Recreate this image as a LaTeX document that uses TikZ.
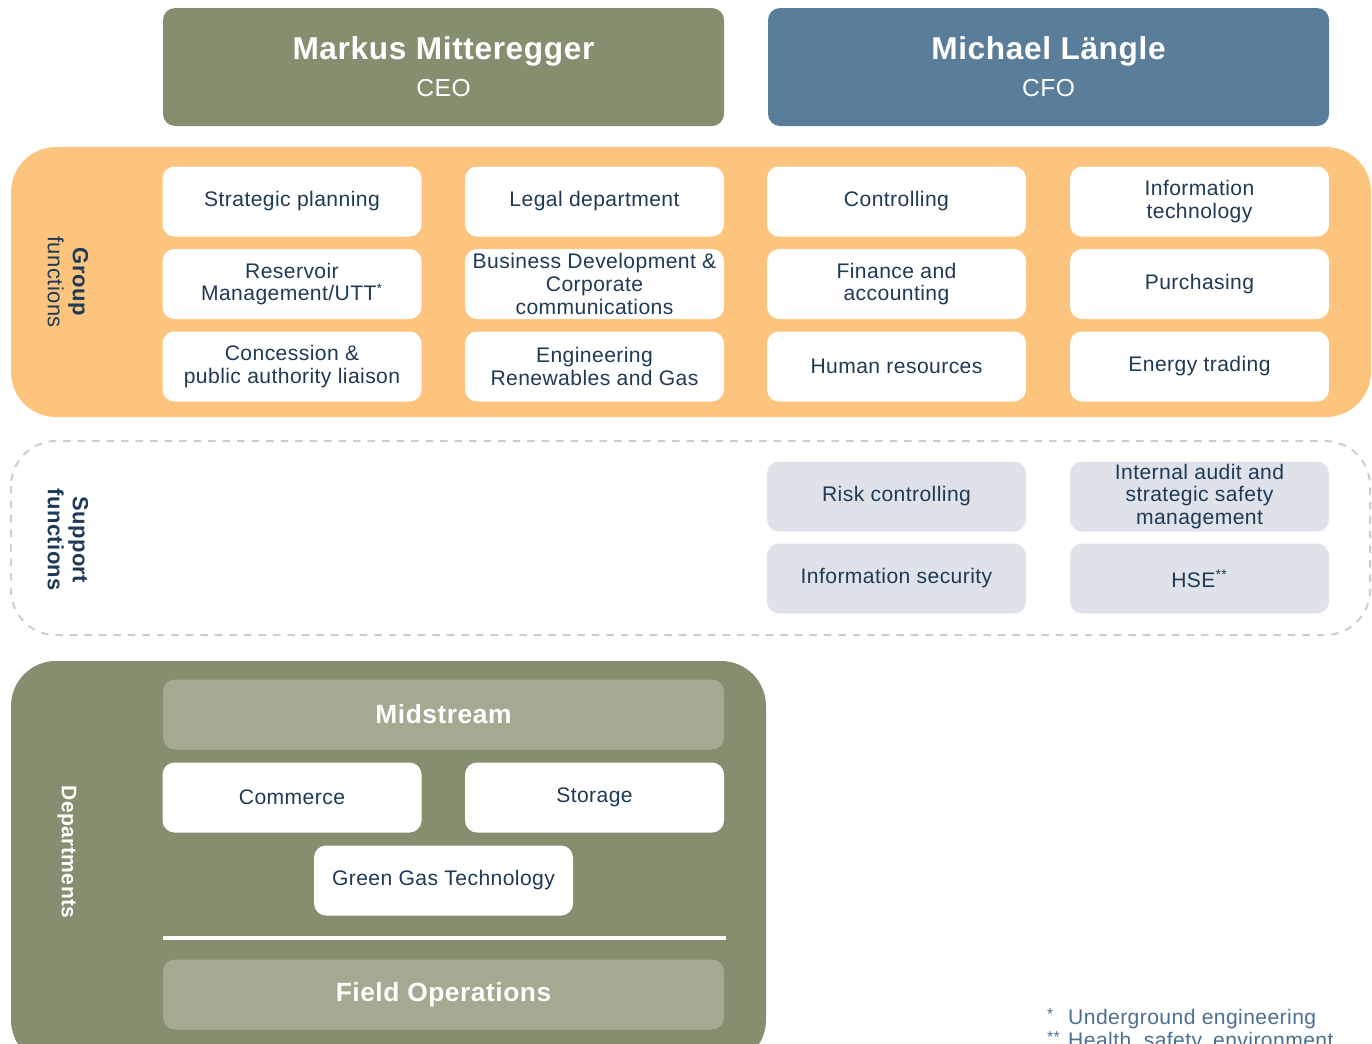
\documentclass[tikz,border=0pt]{standalone}
\usepackage{fontspec}
\setmainfont{Liberation Sans}[LetterSpace=2]
\usepackage{tikz}

\definecolor{ceogreen}{HTML}{868E70}
\definecolor{cfoblue}{HTML}{5A7E99}
\definecolor{grouporange}{HTML}{FCC47C}
\definecolor{deptlight}{HTML}{A5A991}
\definecolor{supportgray}{HTML}{DFE3E9}
\definecolor{dashgray}{HTML}{C9CED6}
\definecolor{textnavy}{HTML}{1F3A56}
\definecolor{footblue}{HTML}{4B6F92}

\newcommand{\fnmark}[1]{\makebox[0.42cm][l]{\raisebox{0.4ex}{\fontsize{9}{9}\selectfont #1}}}

\tikzset{
  headbox/.style={rounded corners=0.24cm, minimum width=11.22cm, minimum height=2.36cm, text=white, align=center, font=\fontsize{14}{21}\selectfont},
  unitbox/.style={fill=white, rounded corners=0.24cm, minimum width=5.18cm, minimum height=1.4cm, text=textnavy, align=center, inner sep=0pt, font=\fontsize{12}{13}\selectfont},
  supportbox/.style={unitbox, fill=supportgray},
  deptbar/.style={fill=deptlight, rounded corners=0.24cm, minimum width=11.22cm, minimum height=1.4cm, text=white, font=\fontsize{15}{17}\selectfont\bfseries},
  sidelabel/.style={rotate=-90, align=center, text=textnavy, font=\fontsize{12.5}{14.2}\selectfont},
  footnote/.style={anchor=base west, text=footblue, font=\fontsize{12}{14}\selectfont}
}

\begin{document}
\begin{tikzpicture}[y=-1cm]
  \useasboundingbox (0,0) rectangle (27.44,20.86);
  % board
  \node[headbox, fill=ceogreen] (ceo) at (8.87,1.34) {{\fontsize{18}{21}\selectfont\bfseries Markus Mitteregger}\\CEO};
  \node[headbox, fill=cfoblue] (cfo) at (20.97,1.34) {{\fontsize{18}{21}\selectfont\bfseries Michael Längle}\\CFO};

  % group functions
  \fill[grouporange, rounded corners=0.9cm] (0.22,2.94) rectangle (27.42,8.34);
  \node[sidelabel] (grouplbl) at (1.36,5.64) {\textbf{Group}\\functions};
  \node[unitbox] (strat) at (5.84,4.03) {Strategic planning};
  \node[unitbox] (legal) at (11.89,4.03) {Legal department};
  \node[unitbox] (ctrl) at (17.93,4.03) {Controlling};
  \node[unitbox] (it) at (23.99,4.03) {Information\\technology};
  \node[unitbox] (resv) at (5.84,5.68) {Reservoir\\Management/UTT\textsuperscript{*}};
  \node[unitbox] (busdev) at (11.89,5.68) {Business Development \&\\Corporate\\communications};
  \node[unitbox] (fin) at (17.93,5.68) {Finance and\\accounting};
  \node[unitbox] (purch) at (23.99,5.68) {Purchasing};
  \node[unitbox] (conc) at (5.84,7.33) {Concession \&\\public authority liaison};
  \node[unitbox] (eng) at (11.89,7.33) {Engineering\\Renewables and Gas};
  \node[unitbox] (hr) at (17.93,7.33) {Human resources};
  \node[unitbox] (trade) at (23.99,7.33) {Energy trading};

  % support functions
  \draw[dashgray, line width=0.04cm, dash pattern=on 0.15cm off 0.14cm, rounded corners=0.9cm] (0.22,8.82) rectangle (27.4,12.7);
  \node[sidelabel] (supplbl) at (1.36,10.8) {\textbf{Support}\\\textbf{functions}};
  \node[supportbox] (risk) at (17.93,9.93) {Risk controlling};
  \node[supportbox] (audit) at (23.99,9.93) {Internal audit and\\strategic safety\\management};
  \node[supportbox] (infosec) at (17.93,11.57) {Information security};
  \node[supportbox] (hse) at (23.99,11.57) {HSE\textsuperscript{**}};

  % departments
  \fill[ceogreen, rounded corners=0.9cm] (0.22,13.22) rectangle (15.32,21.3);
  \node[sidelabel, text=white, font=\fontsize{12}{14}\selectfont\bfseries] (deptlbl) at (1.34,17.04) {Departments};
  \node[deptbar] (mid) at (8.87,14.29) {Midstream};
  \node[unitbox] (comm) at (5.84,15.95) {Commerce};
  \node[unitbox] (stor) at (11.89,15.95) {Storage};
  \node[unitbox] (ggt) at (8.87,17.61) {Green Gas Technology};
  \draw[white, line width=0.08cm] (3.26,18.76) -- (14.52,18.76);
  \node[deptbar] (field) at (8.87,19.89) {Field Operations};

  % notes
  \node[footnote] (note1) at (20.82,20.48) {\fnmark{*}Underground engineering};
  \node[footnote] (note2) at (20.82,20.94) {\fnmark{**}Health, safety, environment};
\end{tikzpicture}
\end{document}
